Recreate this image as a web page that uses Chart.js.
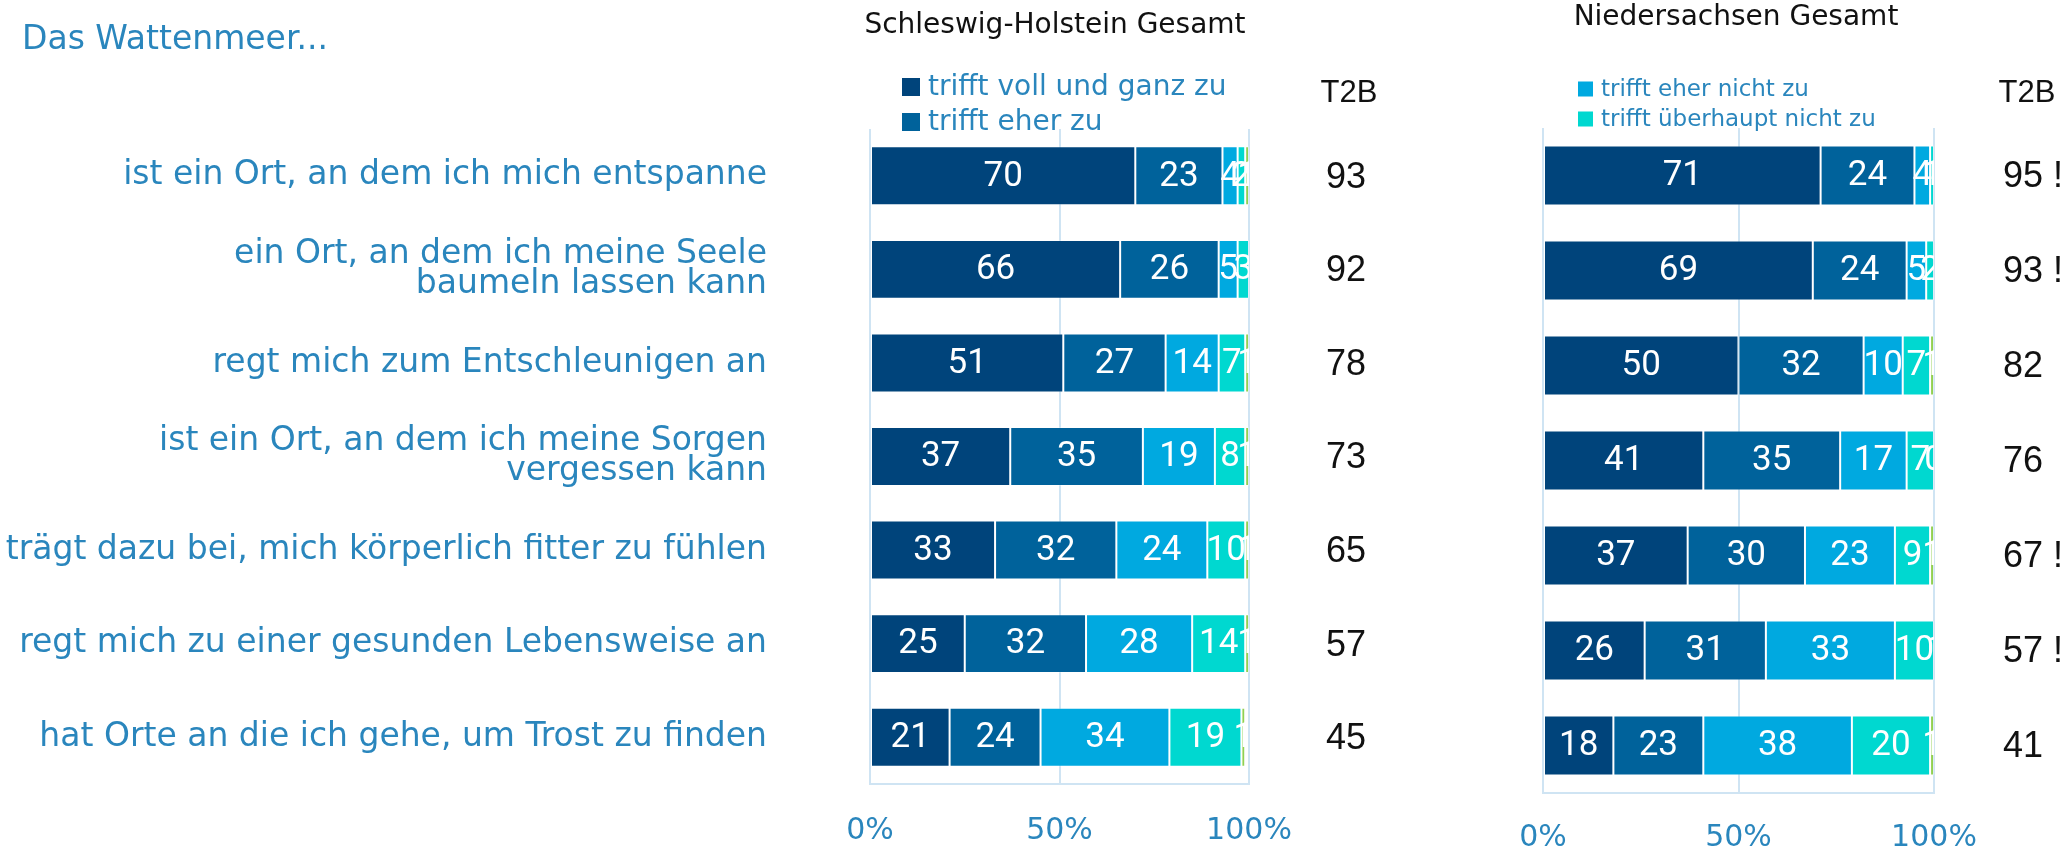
<!DOCTYPE html>
<html>
<head>
<meta charset="utf-8">
<script src="https://cdn.jsdelivr.net/npm/chart.js@4/dist/chart.umd.min.js"></script>
<style>
  body { margin: 0; background: #fff; }
  canvas { position: absolute; top: 0; }
  #sh { left: 0; }
  #ns { left: 1420px; }
</style>
</head>
<body>
<canvas id="sh" width="1420" height="850"></canvas>
<canvas id="ns" width="643" height="850"></canvas>
<script>
const categories = [
  "ist ein Ort, an dem ich mich entspanne",
  ["ein Ort, an dem ich meine Seele", "baumeln lassen kann"],
  "regt mich zum Entschleunigen an",
  ["ist ein Ort, an dem ich meine Sorgen", "vergessen kann"],
  "trägt dazu bei, mich körperlich fitter zu fühlen",
  "regt mich zu einer gesunden Lebensweise an",
  "hat Orte an die ich gehe, um Trost zu finden",
];
const seriesLabels = [
  "trifft voll und ganz zu",
  "trifft eher zu",
  "trifft eher nicht zu",
  "trifft überhaupt nicht zu",
  "weiß nicht",
];
const colors = ["#00447b", "#00629b", "#00a9e0", "#00d8d0", "#92d050"];

// Schleswig-Holstein
const shVoll = [70, 66, 51, 37, 33, 25, 21];
const shEher = [23, 26, 27, 35, 32, 32, 24];
const shEherNicht = [4, 5, 14, 19, 24, 28, 34];
const shUeberhaupt = [2, 3, 7, 8, 10, 14, 19];
const shWeissNicht = [1, null, 1, 1, 1, 1, 1];
const t2bSH = ["93", "92", "78", "73", "65", "57", "45"];

// Niedersachsen
const nsVoll = [71, 69, 50, 41, 37, 26, 18];
const nsEher = [24, 24, 32, 35, 30, 31, 23];
const nsEherNicht = [4, 5, 10, 17, 23, 33, 38];
const nsUeberhaupt = [1, 2, 7, 7, 9, 10, 20];
const nsWeissNicht = [null, null, 1, 0, 1, 1, 1];
const t2bNS = ["95 !", "93 !", "82", "76", "67 !", "57 !", "41"];

const xTicks = [0, 50, 100];

const blue = "#2a86bd";
const gridColor = "#cfe4f3";

function datasets(series) {
  return series.map((data, i) => ({
    label: seriesLabels[i],
    data: data,
    backgroundColor: colors[i],
    borderColor: "rgba(255,255,255,0.3)",
    borderWidth: 1,
    borderSkipped: false,
    barPercentage: 0.63,
    categoryPercentage: 1,
  }));
}

// white value labels centred in each segment, clipped to the plot area
const valueLabels = {
  id: "valueLabels",
  afterDatasetsDraw(chart) {
    const { ctx, chartArea } = chart;
    ctx.save();
    ctx.beginPath();
    ctx.rect(chartArea.left, chartArea.top, chartArea.right - chartArea.left, chartArea.bottom - chartArea.top);
    ctx.clip();
    ctx.fillStyle = "#fff";
    ctx.font = "35px Roboto";
    ctx.textAlign = "center";
    ctx.textBaseline = "middle";
    chart.data.datasets.forEach((ds, di) => {
      chart.getDatasetMeta(di).data.forEach((bar, i) => {
        const v = ds.data[i];
        if (v === null) return;
        ctx.fillText(v, (bar.x + bar.base) / 2, bar.y + 1);
      });
    });
    ctx.restore();
  },
};

// title, legend and T2B column
const extras = {
  id: "extras",
  afterDraw(chart, args, o) {
    const { ctx } = chart;
    const y = chart.scales.y;
    ctx.save();
    ctx.textBaseline = "middle";
    if (o.heading) {
      ctx.fillStyle = blue;
      ctx.font = "33px 'DejaVu Sans'";
      ctx.textAlign = "left";
      ctx.fillText(o.heading, 22, 40);
    }
    ctx.fillStyle = "#111";
    ctx.font = o.titleFont;
    ctx.textAlign = "center";
    ctx.fillText(o.title, o.titleX, o.titleY);

    o.legend.forEach((di, k) => {
      const ly = o.legendY[k];
      ctx.fillStyle = colors[di];
      ctx.fillRect(o.legendX, ly - o.box / 2, o.box, o.box);
      ctx.fillStyle = blue;
      ctx.font = o.legendFont;
      ctx.textAlign = "left";
      ctx.fillText(chart.data.datasets[di].label, o.legendX + o.box + 8, ly + 1);
    });

    ctx.fillStyle = "#111";
    ctx.font = "31px 'Liberation Sans'";
    ctx.textAlign = "center";
    ctx.fillText("T2B", o.t2bHeadX, 93);
    ctx.font = "36px 'Liberation Sans'";
    ctx.textAlign = "left";
    o.t2b.forEach((t, i) => {
      ctx.fillText(t, o.t2bX, y.getPixelForValue(i) + 2);
    });
    ctx.restore();
  },
};

function makeChart(id, series, cfg) {
  return new Chart(document.getElementById(id), {
    type: "bar",
    data: { labels: categories, datasets: datasets(series) },
    plugins: [valueLabels, extras],
    options: {
      indexAxis: "y",
      responsive: false,
      animation: false,
      layout: { padding: cfg.padding },
      plugins: {
        legend: { display: false },
        tooltip: { enabled: false },
        extras: cfg.extras,
      },
      scales: {
        x: {
          stacked: true,
          min: 0,
          max: 100,
          afterBuildTicks: (s) => { s.ticks = xTicks.map((v) => ({ value: v })); },
          afterFit: (s) => { s.height = cfg.xHeight; },
          grid: { color: gridColor, lineWidth: 2, drawTicks: false },
          border: { color: gridColor, width: 2 },
          ticks: {
            color: blue,
            font: { family: "'DejaVu Sans'", size: 30 },
            padding: cfg.xPad,
            callback: (v) => v + "%",
          },
        },
        y: {
          stacked: true,
          display: cfg.showY,
          afterFit: (s) => {
            s.width = cfg.yWidth;
            s.paddingTop = 0;
            s.paddingBottom = 0;
          },
          grid: { display: false, drawTicks: false },
          border: { display: false },
          ticks: {
            color: blue,
            autoSkip: false,
            padding: 103,
            font: { family: "'DejaVu Sans'", size: 33, lineHeight: 0.9 },
          },
        },
      },
    },
  });
}

makeChart("sh", [shVoll, shEher, shEherNicht, shUeberhaupt, shWeissNicht], {
  padding: { top: 129, left: 0, right: 171, bottom: 0 },
  yWidth: 870,
  showY: true,
  xHeight: 66,
  xPad: 29,
  extras: {
    heading: "Das Wattenmeer...",
    title: "Schleswig-Holstein Gesamt",
    titleFont: "28px 'DejaVu Sans'",
    titleX: 1055,
    titleY: 26,
    legend: [0, 1],
    legendX: 902,
    legendY: [87, 122],
    box: 18,
    legendFont: "28px 'DejaVu Sans'",
    t2bHeadX: 1349,
    t2bX: 1326,
    t2b: t2bSH,
  },
});

makeChart("ns", [nsVoll, nsEher, nsEherNicht, nsUeberhaupt, nsWeissNicht], {
  padding: { top: 128, left: 123, right: 129, bottom: 0 },
  yWidth: 0,
  showY: false,
  xHeight: 57,
  xPad: 27,
  extras: {
    heading: null,
    title: "Niedersachsen Gesamt",
    titleFont: "28px 'DejaVu Sans'",
    titleX: 316,
    titleY: 18,
    legend: [2, 3],
    legendX: 158,
    legendY: [89, 119],
    box: 15,
    legendFont: "23px 'DejaVu Sans'",
    t2bHeadX: 607,
    t2bX: 583,
    t2b: t2bNS,
  },
});
</script>
</body>
</html>
